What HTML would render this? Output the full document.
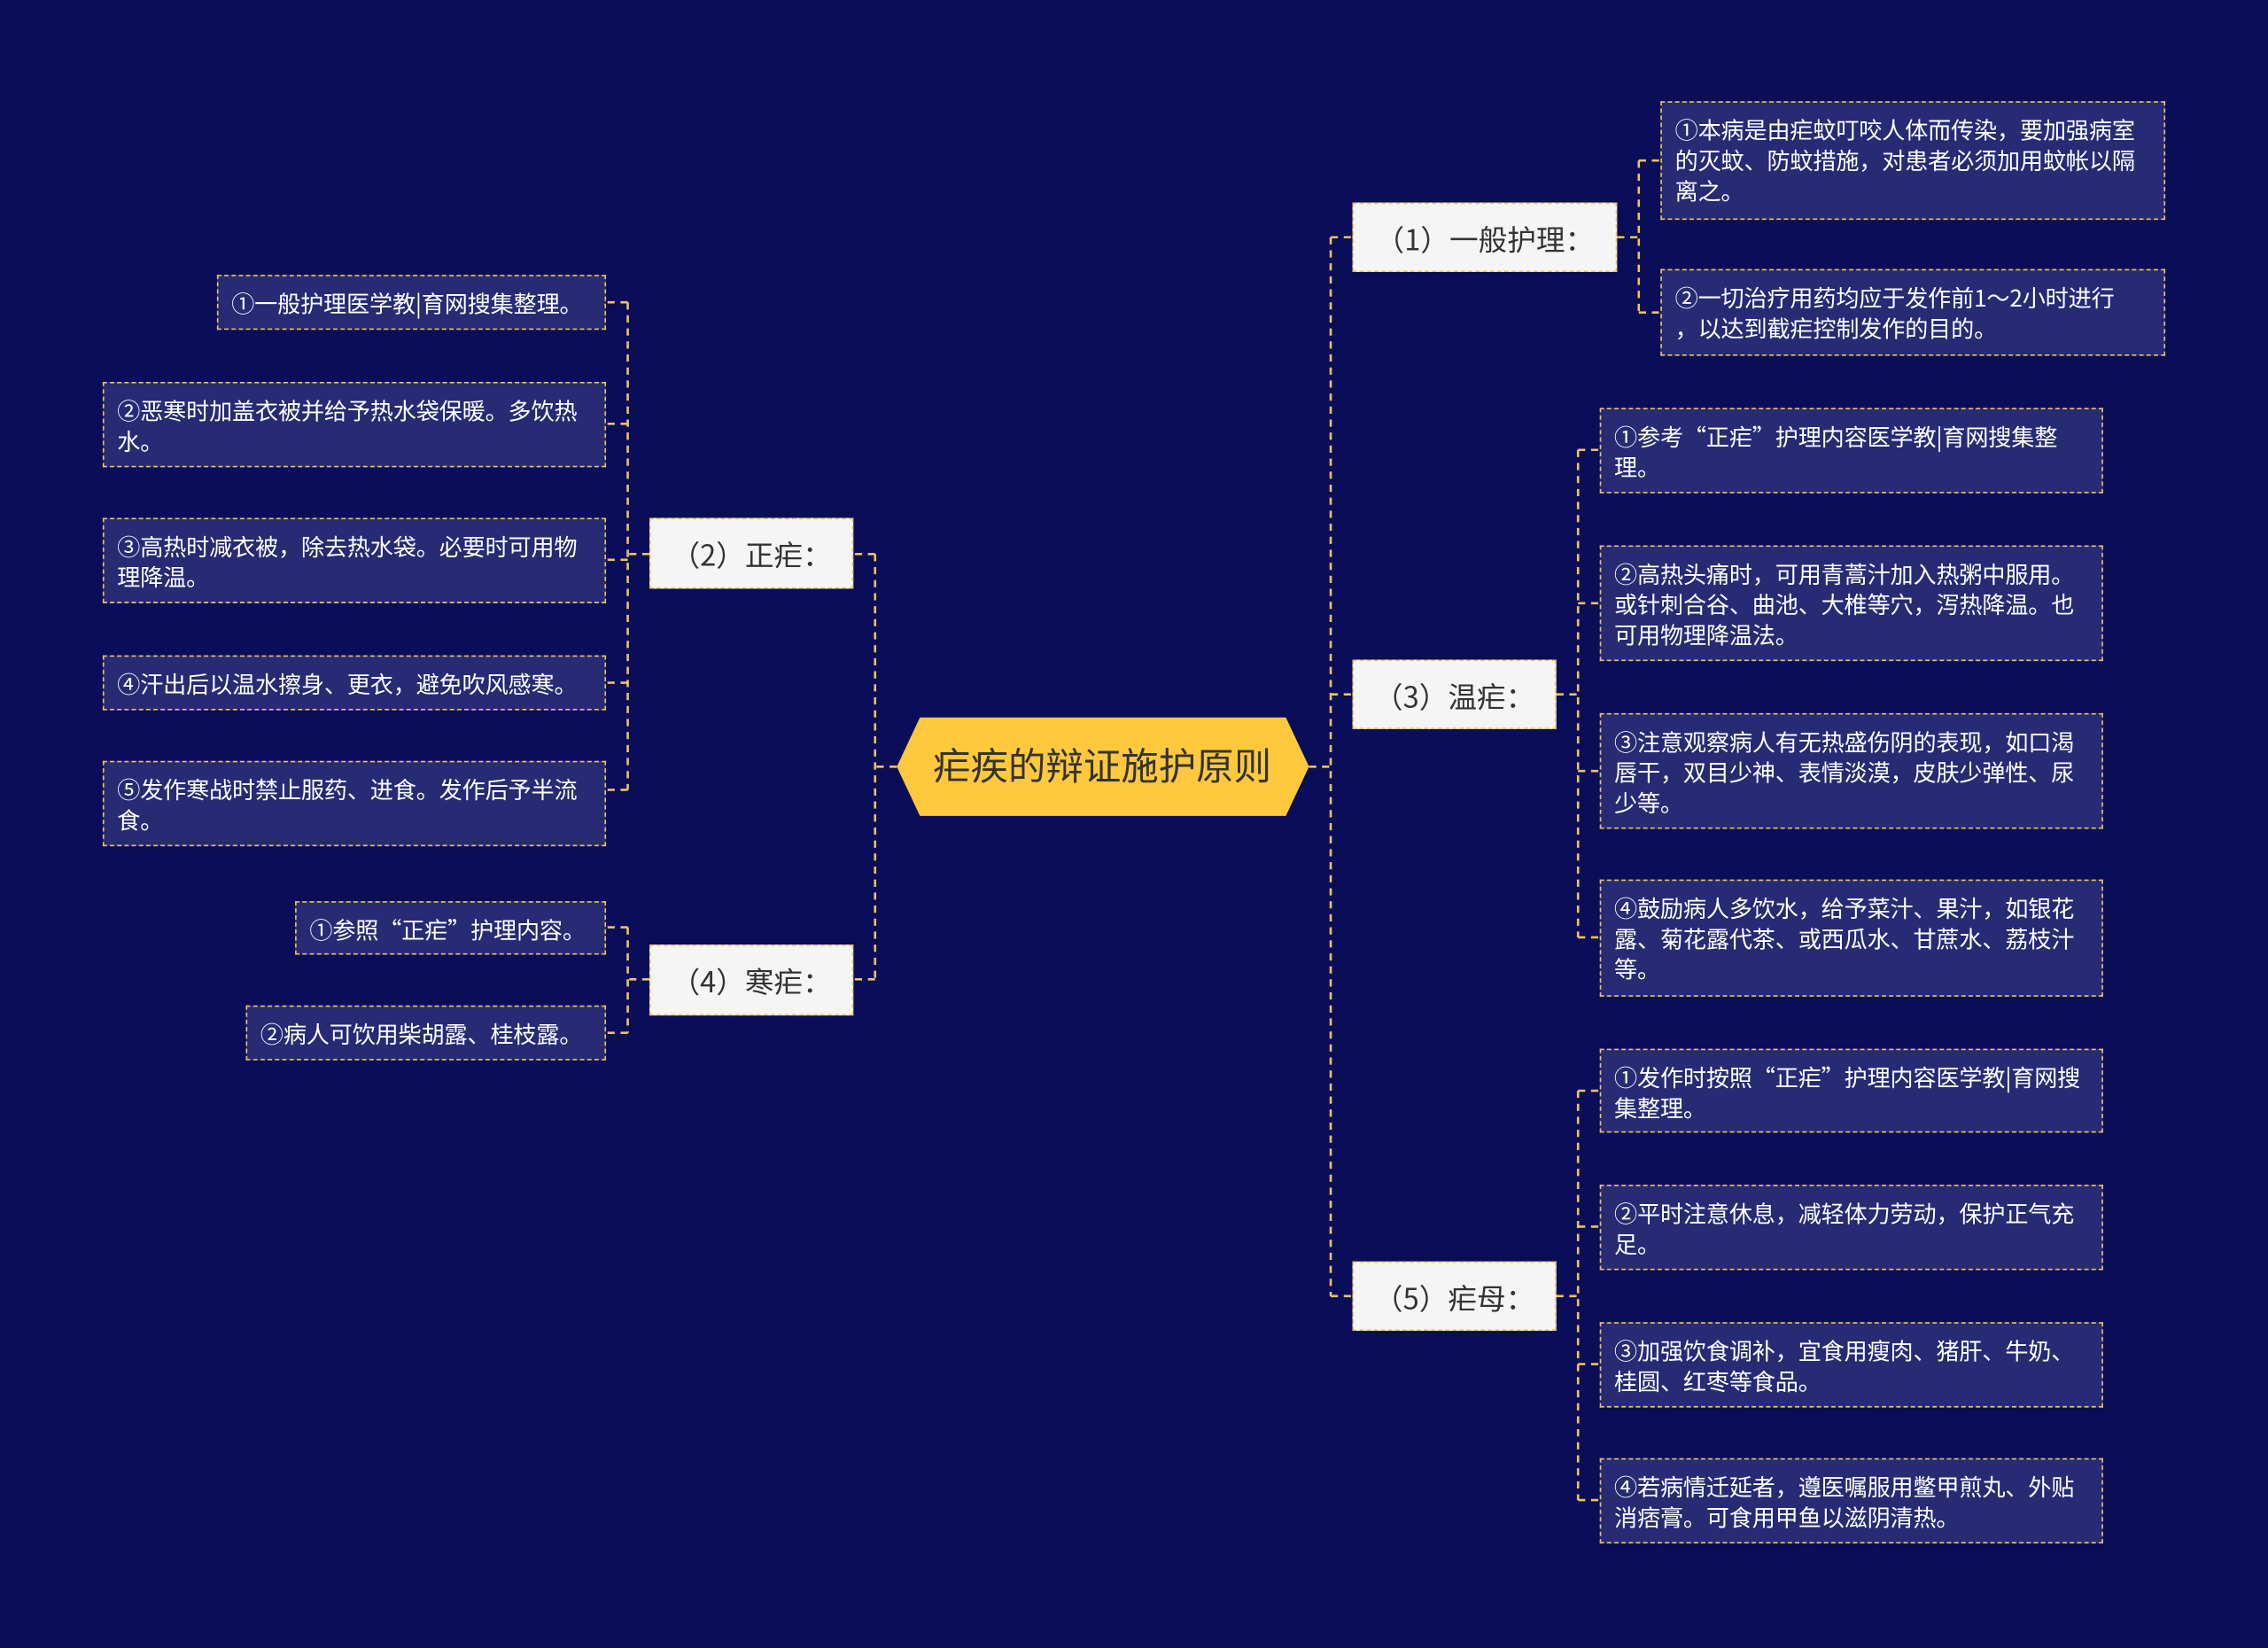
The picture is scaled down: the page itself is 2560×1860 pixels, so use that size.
<!DOCTYPE html>
<html><head><meta charset="utf-8">
<style>
html,body{margin:0;padding:0;background:#0a0d58;}
body{width:2560px;height:1859px;overflow:hidden;}
#w{position:absolute;left:0;top:0;width:1568px;height:1139px;transform:scale(1.63265);transform-origin:0 0;font-family:"Noto Sans CJK SC","Liberation Sans",sans-serif;}
.n{position:absolute;box-sizing:border-box;border:1.5px dashed #f2c25e;}
.l1{background:#f5f5f5;color:#333;font-size:20px;display:flex;align-items:center;justify-content:center;}
.lf{background:#262b74;color:#fff;font-size:16px;line-height:21px;padding:8px 6px 0 9px;letter-spacing:-0.1px;}
svg{position:absolute;left:0;top:0;}
</style></head><body>
<div id="w">
<svg width="1568" height="1139">
<g fill="none" stroke="#f2c25e" stroke-width="1.6" stroke-dasharray="5,4">
<path d="M905 530 H920 M920 164 V896 M920 164 H935 M920 480 H935 M920 896 H935"/>
<path d="M620 530 H605 M605 383 V677 M605 383 H590 M605 677 H590"/>
<path d="M1118 164 H1133 M1133 111 V216 M1133 111 H1148 M1133 216 H1148"/>
<path d="M1076 480 H1091 M1091 311 V648 M1091 311 H1106 M1091 417 H1106 M1091 533 H1106 M1091 648 H1106"/>
<path d="M1076 896 H1091 M1091 754 V1037 M1091 754 H1106 M1091 848 H1106 M1091 943 H1106 M1091 1037 H1106"/>
<path d="M449 383 H434 M434 209 V546 M434 209 H419 M434 293 H419 M434 387 H419 M434 472 H419 M434 546 H419"/>
<path d="M449 677 H434 M434 641 V714 M434 641 H419 M434 714 H419"/>
</g>
<polygon points="636,496 889,496 905,530 889,564 636,564 620,530" fill="#ffc83d"/>
<text x="762" y="539" text-anchor="middle" font-size="26" fill="#333" font-family="Noto Sans CJK SC,sans-serif">疟疾的辩证施护原则</text>
</svg>
<div class="n l1" style="left:935px;top:140px;width:183px;height:48px">（1）一般护理：</div>
<div class="n l1" style="left:449px;top:358px;width:141px;height:49px">（2）正疟：</div>
<div class="n l1" style="left:935px;top:456px;width:141px;height:48px">（3）温疟：</div>
<div class="n l1" style="left:449px;top:653px;width:141px;height:49px">（4）寒疟：</div>
<div class="n l1" style="left:935px;top:872px;width:141px;height:48px">（5）疟母：</div>

<div class="n lf" style="left:1148px;top:70px;width:349px;height:82px">①本病是由疟蚊叮咬人体而传染，要加强病室的灭蚊、防蚊措施，对患者必须加用蚊帐以隔离之。</div>
<div class="n lf" style="left:1148px;top:186px;width:349px;height:60px">②一切治疗用药均应于发作前1～2小时进行<br>，以达到截疟控制发作的目的。</div>

<div class="n lf" style="left:1106px;top:282px;width:348px;height:59px">①参考“正疟”护理内容医学教|育网搜集整理。</div>
<div class="n lf" style="left:1106px;top:377px;width:348px;height:80px">②高热头痛时，可用青蒿汁加入热粥中服用。或针刺合谷、曲池、大椎等穴，泻热降温。也可用物理降温法。</div>
<div class="n lf" style="left:1106px;top:493px;width:348px;height:80px">③注意观察病人有无热盛伤阴的表现，如口渴唇干，双目少神、表情淡漠，皮肤少弹性、尿少等。</div>
<div class="n lf" style="left:1106px;top:608px;width:348px;height:81px">④鼓励病人多饮水，给予菜汁、果汁，如银花露、菊花露代茶、或西瓜水、甘蔗水、荔枝汁等。</div>

<div class="n lf" style="left:1106px;top:725px;width:348px;height:58px">①发作时按照“正疟”护理内容医学教|育网搜集整理。</div>
<div class="n lf" style="left:1106px;top:819px;width:348px;height:59px">②平时注意休息，减轻体力劳动，保护正气充足。</div>
<div class="n lf" style="left:1106px;top:914px;width:348px;height:59px">③加强饮食调补，宜食用瘦肉、猪肝、牛奶、桂圆、红枣等食品。</div>
<div class="n lf" style="left:1106px;top:1008px;width:348px;height:59px">④若病情迁延者，遵医嘱服用鳖甲煎丸、外贴消痞膏。可食用甲鱼以滋阴清热。</div>

<div class="n lf" style="left:150px;top:190px;width:269px;height:38px">①一般护理医学教|育网搜集整理。</div>
<div class="n lf" style="left:71px;top:264px;width:348px;height:59px">②恶寒时加盖衣被并给予热水袋保暖。多饮热水。</div>
<div class="n lf" style="left:71px;top:358px;width:348px;height:59px">③高热时减衣被，除去热水袋。必要时可用物理降温。</div>
<div class="n lf" style="left:71px;top:453px;width:348px;height:38px">④汗出后以温水擦身、更衣，避免吹风感寒。</div>
<div class="n lf" style="left:71px;top:526px;width:348px;height:59px">⑤发作寒战时禁止服药、进食。发作后予半流食。</div>

<div class="n lf" style="left:204px;top:623px;width:215px;height:37px">①参照“正疟”护理内容。</div>
<div class="n lf" style="left:170px;top:695px;width:249px;height:38px">②病人可饮用柴胡露、桂枝露。</div>
</div>
</body></html>
